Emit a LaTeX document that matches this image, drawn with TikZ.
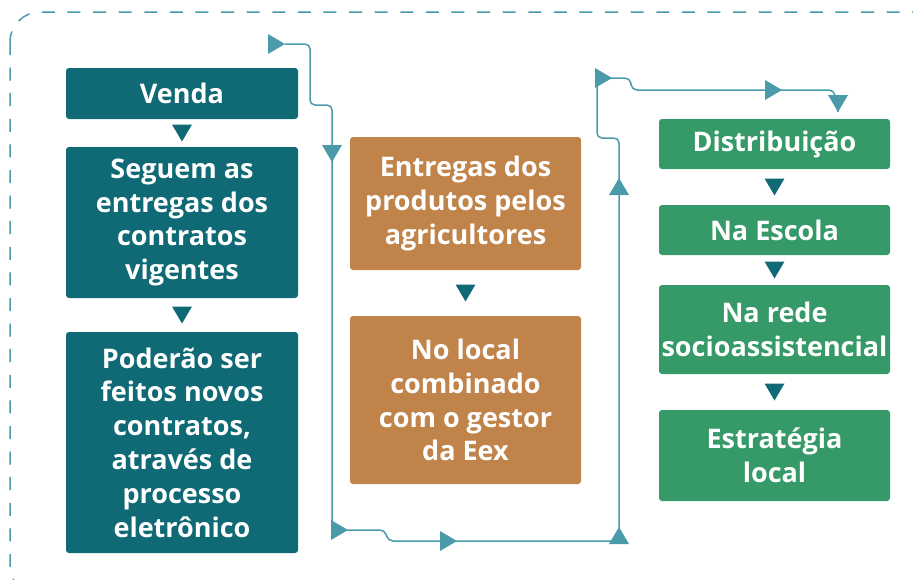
\documentclass[tikz,border=0pt]{standalone}
\usepackage{fontspec}
\setmainfont{Open Sans}
\usetikzlibrary{calc}
\definecolor{tealbox}{HTML}{0F6A75}
\definecolor{orangebox}{HTML}{C0844A}
\definecolor{greenbox}{HTML}{359A68}
\definecolor{linkcol}{HTML}{4A9AAA}
\tikzset{
  caixa/.style={rounded corners=3pt,text=white,align=center,inner sep=0pt,
    font=\fontsize{27}{33.8}\selectfont\bfseries},
  azul/.style={caixa,fill=tealbox,minimum width=232pt},
  laranja/.style={caixa,fill=orangebox,minimum width=231pt},
  verde/.style={caixa,fill=greenbox,minimum width=231pt},
  link/.style={draw=linkcol,line width=1.5pt,rounded corners=5pt},
  seta/.pic={\fill[pic actions] (-17,-10) -- (0,0) -- (-17,10) -- cycle;}
}
\begin{document}
\begin{tikzpicture}[x=1pt,y=-1pt]
	\useasboundingbox (0,0) rectangle (913,579);
	\clip (0,0) rectangle (913,579);
	%frame
	\draw[linkcol,line width=1.5pt,dash pattern=on 13pt off 12.6pt,rounded corners=30pt]
	  (10,12) rectangle (942,596);

	%first column
	\node[azul,minimum height=51pt] (venda) at (182,93.5) {Venda};
	\node[azul,minimum height=151pt] (seguem) at (182,222.5) {Seguem as\\entregas dos\\contratos\\vigentes};
	\node[azul,minimum height=221pt] (poderao) at (182,442.5) {Poderão ser\\feitos novos\\contratos,\\através de\\processo\\eletrônico};

	%second column
	\node[laranja,minimum height=133pt] (entregas) at (465.5,203.5) {Entregas dos\\produtos pelos\\agricultores};
	\node[laranja,minimum height=168pt] (local) at (465.5,400) {No local\\combinado\\com o gestor\\da Eex};

	%third column
	\node[verde,minimum height=50pt] (distrib) at (774.5,144) {Distribuição};
	\node[verde,minimum height=50pt] (escola) at (774.5,230) {Na Escola};
	\node[verde,minimum height=89pt] (rede) at (774.5,329.5) {Na rede\\socioassistencial};
	\node[verde,minimum height=91pt] (estrat) at (774.5,455.5) {Estratégia\\local};

	%down triangles between boxes
	\foreach \a/\b in {venda/seguem,seguem/poderao,entregas/local,distrib/escola,escola/rede,rede/estrat}
	  \pic[fill=tealbox,rotate=-90] at ($(\a.south)!0.5!(\b.north)+(0,8.5)$) {seta};

	%flow line
	\coordinate (p1) at (285,44);  %start
	\coordinate (p2) at (332,162); %down
	\coordinate (p3) at (348,530); %bottom
	\coordinate (p4) at (457,541);
	\coordinate (p5) at (619,527); %up
	\coordinate (p6) at (619,178);
	\coordinate (p7) at (612,78);  %top
	\coordinate (p8) at (782,90);
	\coordinate (p9) at (838,112); %end
	\draw[link] (p1) -- (310,44) -- (310,105) -- (332,105) -- (p2)
	  -- (332,530) -- (385,530) -- (388,541) -- (619,541) -- (619,138)
	  -- (597,138) -- (597,78) -- (630,78) -- (632,90) -- (834,90) -- (p9);

	%arrows
	\pic[fill=linkcol] at (p1) {seta};
	\pic[fill=linkcol,rotate=-90] at (p2) {seta};
	\pic[fill=linkcol] at (p3) {seta};
	\pic[fill=linkcol] at (p4) {seta};
	\pic[fill=linkcol,rotate=90] at (p5) {seta};
	\pic[fill=linkcol,rotate=90] at (p6) {seta};
	\pic[fill=linkcol] at (p7) {seta};
	\pic[fill=linkcol] at (p8) {seta};
	\pic[fill=linkcol,rotate=-90] at (p9) {seta};
\end{tikzpicture}
\end{document}
